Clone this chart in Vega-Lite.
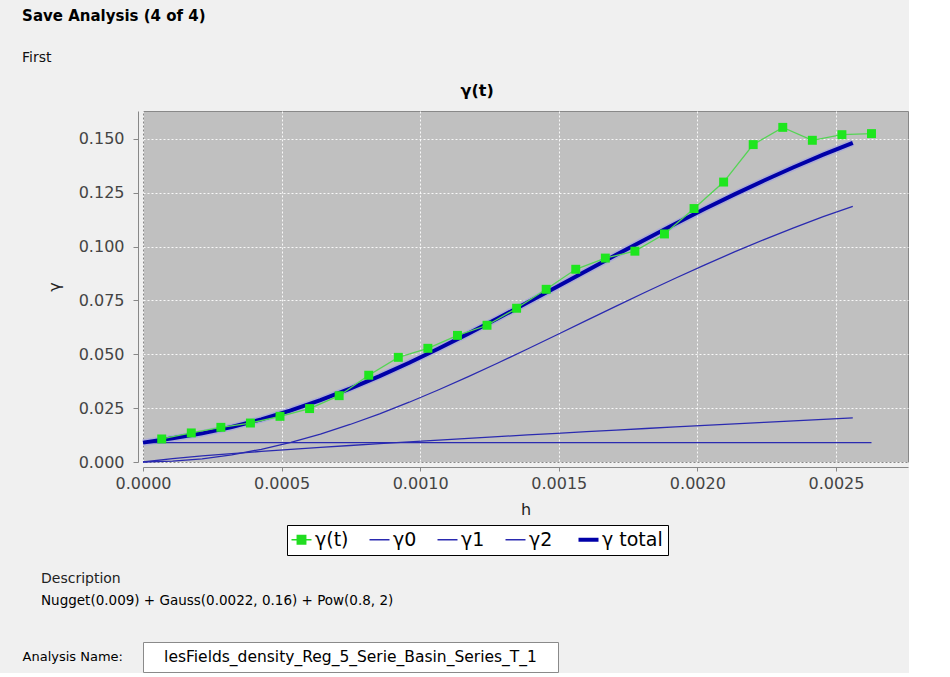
{
  "$schema": "https://vega.github.io/schema/vega-lite/v6.json",
  "background": "#f0f0f0",
  "padding": {"left": 22, "top": 8, "right": 0, "bottom": 0},
  "title": {
    "text": "Save Analysis (4 of 4)",
    "subtitle": "First",
    "anchor": "start",
    "frame": "bounds",
    "font": "DejaVu Sans",
    "fontSize": 15,
    "fontWeight": "bold",
    "color": "#000000",
    "subtitleFont": "DejaVu Sans",
    "subtitleFontSize": 14,
    "subtitleColor": "#111111",
    "subtitlePadding": 27,
    "offset": 18
  },
  "spacing": 15,
  "resolve": {"scale": {"color": "independent"}, "legend": {"color": "independent"}},
  "config": {
    "font": "DejaVu Sans",
    "view": {"stroke": null},
    "axis": {
      "labelFont": "DejaVu Sans",
      "labelFontSize": 16,
      "labelColor": "#444444",
      "labelFlush": false,
      "titleFont": "DejaVu Sans",
      "titleFontSize": 16,
      "titleFontWeight": "normal",
      "titleColor": "#222222",
      "domainColor": "#888888",
      "tickColor": "#888888",
      "gridColor": "#ffffff",
      "gridDash": [2, 2],
      "gridWidth": 1,
      "gridOpacity": 0.9
    }
  },
  "datasets": {
    "curves": [
      {"h": 0, "g": 0.009, "s": "γ0"},
      {"h": 0.0026283, "g": 0.009, "s": "γ0"},
      {"h": 0, "g": 0, "s": "γ1"},
      {"h": 0.0001067, "g": 0.000376, "s": "γ1"},
      {"h": 0.0002134, "g": 0.001498, "s": "γ1"},
      {"h": 0.0003201, "g": 0.003352, "s": "γ1"},
      {"h": 0.0004268, "g": 0.005911, "s": "γ1"},
      {"h": 0.0005335, "g": 0.009138, "s": "γ1"},
      {"h": 0.0006402, "g": 0.01299, "s": "γ1"},
      {"h": 0.0007469, "g": 0.017419, "s": "γ1"},
      {"h": 0.0008536, "g": 0.022362, "s": "γ1"},
      {"h": 0.0009603, "g": 0.027757, "s": "γ1"},
      {"h": 0.001067, "g": 0.033546, "s": "γ1"},
      {"h": 0.0011737, "g": 0.039627, "s": "γ1"},
      {"h": 0.0012804, "g": 0.045979, "s": "γ1"},
      {"h": 0.0013871, "g": 0.052483, "s": "γ1"},
      {"h": 0.0014938, "g": 0.059099, "s": "γ1"},
      {"h": 0.0016005, "g": 0.06575, "s": "γ1"},
      {"h": 0.0017072, "g": 0.072384, "s": "γ1"},
      {"h": 0.0018139, "g": 0.078928, "s": "γ1"},
      {"h": 0.0019206, "g": 0.085333, "s": "γ1"},
      {"h": 0.0020273, "g": 0.091557, "s": "γ1"},
      {"h": 0.002134, "g": 0.09756, "s": "γ1"},
      {"h": 0.0022407, "g": 0.103298, "s": "γ1"},
      {"h": 0.0023474, "g": 0.10875, "s": "γ1"},
      {"h": 0.0024541, "g": 0.113899, "s": "γ1"},
      {"h": 0.0025608, "g": 0.11872, "s": "γ1"},
      {"h": 0, "g": 0, "s": "γ2"},
      {"h": 0.0001067, "g": 0.001613, "s": "γ2"},
      {"h": 0.0002134, "g": 0.002809, "s": "γ2"},
      {"h": 0.0003201, "g": 0.003885, "s": "γ2"},
      {"h": 0.0004268, "g": 0.004891, "s": "γ2"},
      {"h": 0.0005335, "g": 0.005847, "s": "γ2"},
      {"h": 0.0006402, "g": 0.006765, "s": "γ2"},
      {"h": 0.0007469, "g": 0.007653, "s": "γ2"},
      {"h": 0.0008536, "g": 0.008516, "s": "γ2"},
      {"h": 0.0009603, "g": 0.009356, "s": "γ2"},
      {"h": 0.001067, "g": 0.01018, "s": "γ2"},
      {"h": 0.0011737, "g": 0.010986, "s": "γ2"},
      {"h": 0.0012804, "g": 0.011777, "s": "γ2"},
      {"h": 0.0013871, "g": 0.012556, "s": "γ2"},
      {"h": 0.0014938, "g": 0.013323, "s": "γ2"},
      {"h": 0.0016005, "g": 0.014077, "s": "γ2"},
      {"h": 0.0017072, "g": 0.014826, "s": "γ2"},
      {"h": 0.0018139, "g": 0.015562, "s": "γ2"},
      {"h": 0.0019206, "g": 0.016289, "s": "γ2"},
      {"h": 0.0020273, "g": 0.017011, "s": "γ2"},
      {"h": 0.002134, "g": 0.017722, "s": "γ2"},
      {"h": 0.0022407, "g": 0.018427, "s": "γ2"},
      {"h": 0.0023474, "g": 0.019127, "s": "γ2"},
      {"h": 0.0024541, "g": 0.019819, "s": "γ2"},
      {"h": 0.0025608, "g": 0.0205, "s": "γ2"},
      {"h": 0, "g": 0.009, "s": "γ total"},
      {"h": 0.0001067, "g": 0.010989, "s": "γ total"},
      {"h": 0.0002134, "g": 0.013307, "s": "γ total"},
      {"h": 0.0003201, "g": 0.016237, "s": "γ total"},
      {"h": 0.0004268, "g": 0.019802, "s": "γ total"},
      {"h": 0.0005335, "g": 0.023985, "s": "γ total"},
      {"h": 0.0006402, "g": 0.028755, "s": "γ total"},
      {"h": 0.0007469, "g": 0.034072, "s": "γ total"},
      {"h": 0.0008536, "g": 0.039878, "s": "γ total"},
      {"h": 0.0009603, "g": 0.046113, "s": "γ total"},
      {"h": 0.001067, "g": 0.052726, "s": "γ total"},
      {"h": 0.0011737, "g": 0.059613, "s": "γ total"},
      {"h": 0.0012804, "g": 0.066756, "s": "γ total"},
      {"h": 0.0013871, "g": 0.074039, "s": "γ total"},
      {"h": 0.0014938, "g": 0.081422, "s": "γ total"},
      {"h": 0.0016005, "g": 0.088827, "s": "γ total"},
      {"h": 0.0017072, "g": 0.09621, "s": "γ total"},
      {"h": 0.0018139, "g": 0.10349, "s": "γ total"},
      {"h": 0.0019206, "g": 0.110622, "s": "γ total"},
      {"h": 0.0020273, "g": 0.117568, "s": "γ total"},
      {"h": 0.002134, "g": 0.124282, "s": "γ total"},
      {"h": 0.0022407, "g": 0.130725, "s": "γ total"},
      {"h": 0.0023474, "g": 0.136877, "s": "γ total"},
      {"h": 0.0024541, "g": 0.142718, "s": "γ total"},
      {"h": 0.0025608, "g": 0.14822, "s": "γ total"}
    ],
    "obs": [
      {"h": 0.0000675, "g": 0.0107},
      {"h": 0.0001742, "g": 0.0135},
      {"h": 0.0002809, "g": 0.0161},
      {"h": 0.0003876, "g": 0.0181},
      {"h": 0.0004943, "g": 0.0212},
      {"h": 0.000601, "g": 0.0248},
      {"h": 0.0007077, "g": 0.0308},
      {"h": 0.0008144, "g": 0.0403},
      {"h": 0.0009211, "g": 0.0486},
      {"h": 0.0010278, "g": 0.0528},
      {"h": 0.0011345, "g": 0.0588},
      {"h": 0.0012412, "g": 0.0635},
      {"h": 0.0013479, "g": 0.0714},
      {"h": 0.0014546, "g": 0.0802},
      {"h": 0.0015613, "g": 0.0895},
      {"h": 0.001668, "g": 0.0947},
      {"h": 0.0017747, "g": 0.0979},
      {"h": 0.0018814, "g": 0.1059},
      {"h": 0.0019881, "g": 0.1177},
      {"h": 0.0020948, "g": 0.13},
      {"h": 0.0022015, "g": 0.1474},
      {"h": 0.0023082, "g": 0.1554},
      {"h": 0.0024149, "g": 0.1494},
      {"h": 0.0025216, "g": 0.152},
      {"h": 0.0026283, "g": 0.1525}
    ]
  },
  "vconcat": [
    {
      "width": 765,
      "height": 351,
      "view": {"fill": "#c0c0c0", "stroke": "#888888", "strokeWidth": 1},
      "title": {
        "text": "γ(t)",
        "font": "DejaVu Sans",
        "fontSize": 16,
        "fontWeight": "bold",
        "color": "#000000",
        "anchor": "middle",
        "frame": "bounds",
        "offset": 12
      },
      "encoding": {
        "x": {
          "field": "h",
          "type": "quantitative",
          "scale": {"domain": [0, 0.00276], "nice": false, "zero": false},
          "axis": {
            "title": "h",
            "values": [0, 0.0005, 0.001, 0.0015, 0.002, 0.0025],
            "format": ".4f",
            "offset": 5,
            "tickSize": 4,
            "labelPadding": 4,
            "titlePadding": 10
          }
        },
        "y": {
          "field": "g",
          "type": "quantitative",
          "scale": {"domain": [0, 0.163], "nice": false},
          "axis": {
            "title": "γ",
            "values": [0, 0.025, 0.05, 0.075, 0.1, 0.125, 0.15],
            "format": ".3f",
            "offset": 5,
            "tickSize": 5,
            "labelPadding": 9,
            "titlePadding": 16
          }
        }
      },
      "layer": [
        {
          "data": {"name": "curves"},
          "transform": [{"filter": "datum.s === 'γ total'"}],
          "mark": {"type": "line", "color": "#9a9ae6", "strokeWidth": 7, "opacity": 0.55}
        },
        {
          "data": {"name": "curves"},
          "transform": [{"filter": "datum.s !== 'γ total'"}],
          "mark": {"type": "line", "strokeWidth": 1.3},
          "encoding": {
            "color": {
              "field": "s",
              "type": "nominal",
              "scale": {
                "domain": ["γ(t)", "γ0", "γ1", "γ2", "γ total"],
                "range": ["#22dd22", "#2a2ab0", "#2a2ab0", "#2a2ab0", "#0000a8"]
              },
              "legend": {
                "title": null,
                "orient": "none",
                "legendX": 144,
                "legendY": 414,
                "direction": "horizontal",
                "padding": 5,
                "strokeColor": "#000000",
                "fillColor": "#ffffff",
                "labelFont": "DejaVu Sans",
                "labelFontSize": 19,
                "labelColor": "#000000",
                "symbolType": "stroke",
                "symbolSize": 400,
                "symbolStrokeWidth": 2,
                "labelOffset": 4,
                "columnPadding": 17,
                "encoding": {
                  "symbols": {
                    "shape": {"value": {"expr": "datum.value === 'γ(t)' ? 'M-1,0L1,0M-0.42,-0.42L0.42,-0.42L0.42,0.42L-0.42,0.42Z' : 'stroke'"}},
                    "fill": {"value": {"expr": "datum.value === 'γ(t)' ? '#22dd22' : 'transparent'"}},
                    "strokeWidth": {"value": {"expr": "datum.value === 'γ total' ? 4 : 1.5"}}
                  }
                }
              }
            }
          }
        },
        {
          "data": {"name": "curves"},
          "transform": [{"filter": "datum.s === 'γ total'"}],
          "mark": {"type": "line", "strokeWidth": 4},
          "encoding": {"color": {"field": "s", "type": "nominal"}}
        },
        {
          "data": {"name": "obs"},
          "mark": {"type": "line", "color": "#55d455", "strokeWidth": 1.3}
        },
        {
          "data": {"name": "obs"},
          "mark": {"type": "square", "size": 80, "color": "#1ee61e", "opacity": 1, "filled": true}
        }
      ]
    },
    {
      "width": 765,
      "height": 15,
      "data": {"values": [{"t": " "}]},
      "mark": {"type": "text", "fontSize": 2},
      "encoding": {"text": {"field": "t", "type": "nominal"}},
      "title": {
        "text": "Description",
        "subtitle": "Nugget(0.009) + Gauss(0.0022, 0.16) + Pow(0.8, 2)",
        "anchor": "start",
        "frame": "group",
        "dx": -102,
        "font": "DejaVu Sans",
        "fontSize": 14,
        "fontWeight": "normal",
        "color": "#222222",
        "subtitleFont": "DejaVu Sans",
        "subtitleFontSize": 13.5,
        "subtitleColor": "#000000",
        "subtitlePadding": 8,
        "offset": 4
      }
    },
    {
      "width": 415,
      "height": 30,
      "view": {"fill": "#ffffff", "stroke": "#8a8a8a", "strokeWidth": 1},
      "data": {"values": [{"name": "lesFields_density_Reg_5_Serie_Basin_Series_T_1"}]},
      "mark": {"type": "text", "font": "DejaVu Sans", "fontSize": 15.5, "color": "#000000", "align": "center", "baseline": "middle"},
      "encoding": {"text": {"field": "name", "type": "nominal"}},
      "title": {
        "text": "Analysis Name:",
        "orient": "left",
        "angle": 0,
        "align": "left",
        "baseline": "middle",
        "anchor": "middle",
        "offset": 20,
        "font": "DejaVu Sans",
        "fontSize": 13,
        "fontWeight": "normal",
        "color": "#000000"
      }
    }
  ]
}
